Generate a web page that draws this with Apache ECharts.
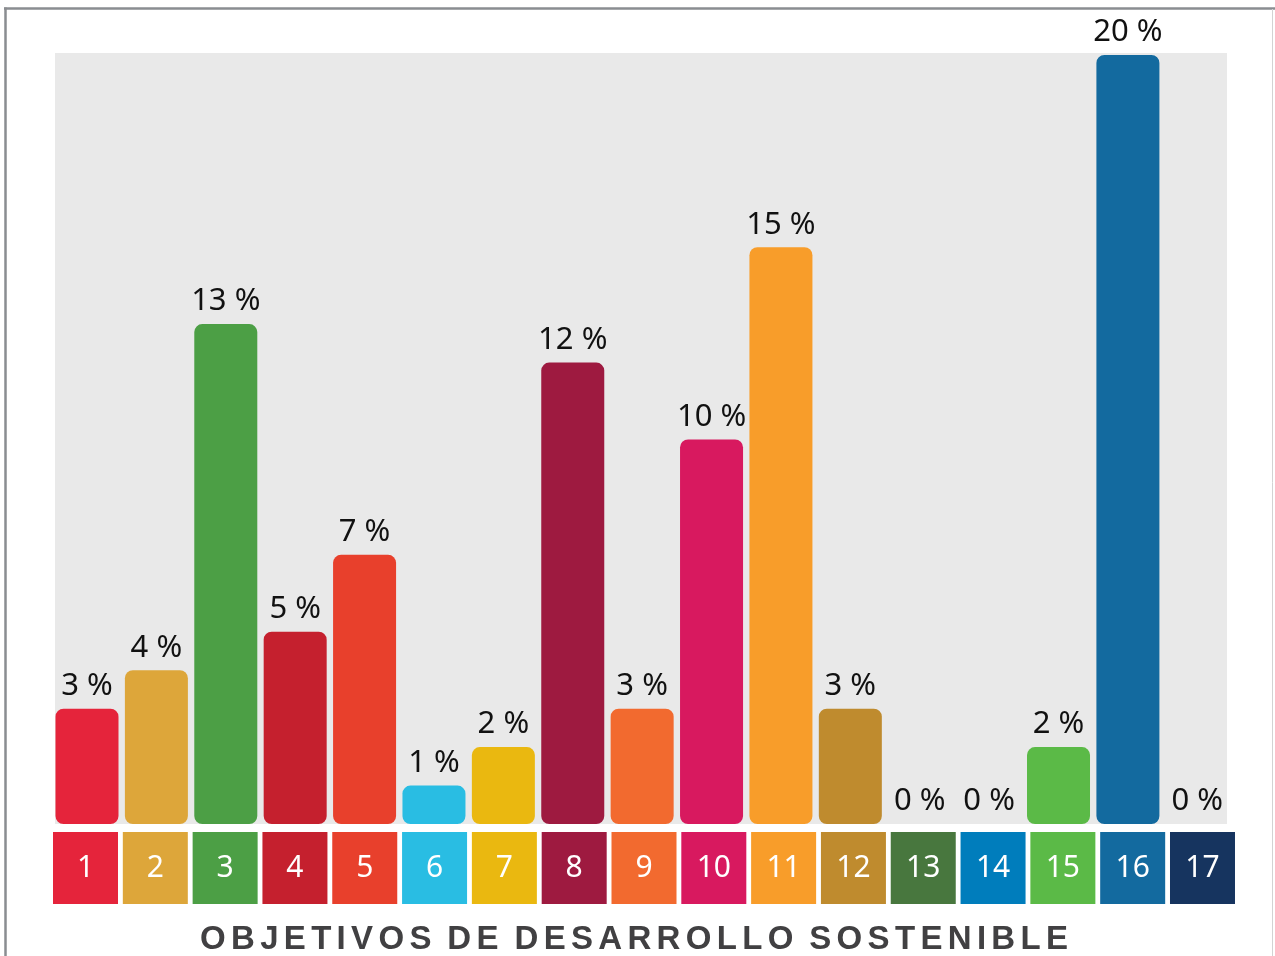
<!DOCTYPE html>
<html><head><meta charset="utf-8">
<script src="https://cdn.jsdelivr.net/npm/echarts@6/dist/echarts.min.js"></script>
<style>html,body{margin:0;padding:0;background:#fff}#c{width:1275px;height:956px}</style>
</head><body><div id="c"></div>
<script>
const categories = ['1','2','3','4','5','6','7','8','9','10','11','12','13','14','15','16','17'];
const values = [3, 4, 13, 5, 7, 1, 2, 12, 3, 10, 15, 3, 0, 0, 2, 20, 0];
const colors = ['#E5243B','#DDA63A','#4C9F45','#C5202E','#E8402C','#29BDE3','#EAB810','#9E1A40','#F26A2F','#D8195F','#F89D2A','#BF8B2E','#48773E','#007DBC','#5BBA47','#136A9F','#16345F'];
const axisTitle = 'OBJETIVOS DE DESARROLLO SOSTENIBLE';

// letter-spaced title laid out across a fixed span
const titleFont = 'bold 33px "Liberation Sans"';
const titleLeft = 200, titleRight = 1068, titleY = 940;
const wordGapFactor = 3;
const ctx = document.createElement('canvas').getContext('2d');
ctx.font = titleFont;
const words = axisTitle.split(' ');
let letterW = 0, intraGaps = 0;
words.forEach(w => { w.split('').forEach(ch => { letterW += ctx.measureText(ch).width; }); intraGaps += w.length - 1; });
const gap = (titleRight - titleLeft - letterW) / (intraGaps + (words.length - 1) * wordGapFactor);
const titleEls = [];
let xPos = titleLeft;
words.forEach((w, wi) => {
  w.split('').forEach((ch, ci) => {
    titleEls.push({type: 'text', x: xPos, y: titleY, style: {text: ch, fill: '#414042', font: titleFont,
      textAlign: 'left', textVerticalAlign: 'middle'}});
    xPos += ctx.measureText(ch).width + (ci < w.length - 1 ? gap : 0);
  });
  xPos += gap * wordGapFactor;
});

const rich = {};
colors.forEach((c, i) => {
  rich['t' + i] = {backgroundColor: c, width: 65, height: 72, lineHeight: 78, align: 'center',
    color: '#fff', fontSize: 30, fontFamily: 'Noto Sans'};
});

const chart = echarts.init(document.getElementById('c'), null, {renderer: 'canvas'});
chart.setOption({
  animation: false,
  backgroundColor: '#fff',
  graphic: [
    {type: 'rect', z: -10, shape: {x: 55, y: 53, width: 1172, height: 771}, style: {fill: '#e9e9e9'}},
    {type: 'line', shape: {x1: 4, y1: 8.5, x2: 1275, y2: 8.5}, style: {stroke: '#8a8d91', lineWidth: 2.5}},
    {type: 'line', shape: {x1: 5.5, y1: 7.5, x2: 5.5, y2: 956}, style: {stroke: '#8a8d91', lineWidth: 2.5}},
    {type: 'line', shape: {x1: 1272.5, y1: 9, x2: 1272.5, y2: 956}, style: {stroke: '#d3d3d3', lineWidth: 1}}
  ].concat(titleEls),
  grid: [
    {left: 52.3, right: 43, top: 53, bottom: 132},
    {left: 50.6, right: 37.6, top: 828, height: 1}
  ],
  xAxis: [
    {type: 'category', data: categories, gridIndex: 0, axisLine: {show: false}, axisTick: {show: false}, axisLabel: {show: false}},
    {type: 'category', data: categories, gridIndex: 1, axisLine: {show: false}, axisTick: {show: false},
      axisLabel: {interval: 0, margin: 0, formatter: (v, i) => '{t' + i + '|' + v + '}', rich: rich}}
  ],
  yAxis: [
    {type: 'value', gridIndex: 0, min: 0, max: 20.05, show: false},
    {type: 'value', gridIndex: 1, show: false}
  ],
  series: [{
    type: 'bar', xAxisIndex: 0, yAxisIndex: 0, barWidth: 63,
    data: values.map((v, i) => ({value: v, itemStyle: {color: colors[i], borderRadius: 8}})),
    label: {show: true, position: 'top', distance: 7, formatter: p => p.value + ' %',
      color: '#111', fontSize: 31, fontFamily: 'Noto Sans'}
  }]
});
</script></body></html>
